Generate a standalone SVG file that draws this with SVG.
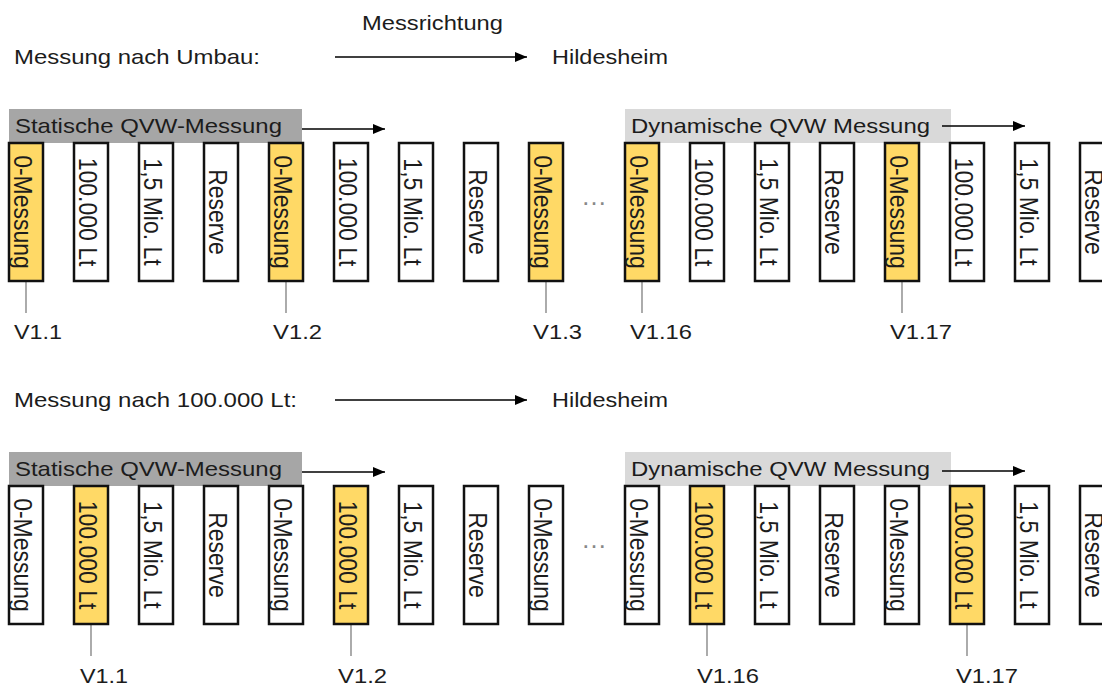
<svg xmlns="http://www.w3.org/2000/svg" width="1102" height="686" viewBox="0 0 1102 686">
<defs>
<style>
text{font-family:"Liberation Sans",Arial,sans-serif;fill:#1c1c1c}
.h{font-size:21px}
.v{font-size:23px;text-anchor:middle}
.box{fill:#fff;stroke:#111;stroke-width:2.5}
.box.y{fill:#ffd966}
.bar1{fill:#a6a6a6}
.bar2{fill:#d9d9d9}
.lead{stroke:#7f7f7f;stroke-width:1.3;fill:none}
.arr{stroke:#000;stroke-width:1.5;fill:none;marker-end:url(#ah)}
.dots{font-size:26px;fill:#888;text-anchor:middle}
</style>
<marker id="ah" viewBox="0 0 12 10" refX="12" refY="5" markerWidth="12" markerHeight="10" markerUnits="userSpaceOnUse" orient="auto">
<path d="M0,0 L12,5 L0,10 z" fill="#000"/>
</marker>
</defs>
<rect width="1102" height="686" fill="#fff"/>

<g id="titles">
<text class="h" x="362" y="30" textLength="141" lengthAdjust="spacingAndGlyphs">Messrichtung</text>
<text class="h" x="14" y="64" textLength="246" lengthAdjust="spacingAndGlyphs">Messung nach Umbau:</text>
<text class="h" x="552" y="64" textLength="116" lengthAdjust="spacingAndGlyphs">Hildesheim</text>
<text class="h" x="14" y="407" textLength="283" lengthAdjust="spacingAndGlyphs">Messung nach 100.000 Lt:</text>
<text class="h" x="552" y="407" textLength="116" lengthAdjust="spacingAndGlyphs">Hildesheim</text>
</g>

<g id="headers">
<rect class="bar1" x="9" y="109" width="293" height="34"/>
<text class="h" x="15" y="133" textLength="267" lengthAdjust="spacingAndGlyphs">Statische QVW-Messung</text>
<rect class="bar2" x="625" y="109" width="326" height="34"/>
<text class="h" x="631" y="133" textLength="299" lengthAdjust="spacingAndGlyphs">Dynamische QVW Messung</text>
<rect class="bar1" x="9" y="452" width="293" height="34"/>
<text class="h" x="15" y="476" textLength="267" lengthAdjust="spacingAndGlyphs">Statische QVW-Messung</text>
<rect class="bar2" x="625" y="452" width="326" height="34"/>
<text class="h" x="631" y="476" textLength="299" lengthAdjust="spacingAndGlyphs">Dynamische QVW Messung</text>
</g>

<g id="connectors">
<line class="arr" x1="335" y1="57" x2="527" y2="57"/>
<line class="arr" x1="335" y1="400" x2="527" y2="400"/>
<line class="arr" x1="302" y1="129" x2="385" y2="129"/>
<line class="arr" x1="942" y1="126" x2="1025" y2="126"/>
<line class="arr" x1="302" y1="472" x2="385" y2="472"/>
<line class="arr" x1="942" y1="471" x2="1025" y2="471"/>
<line class="lead" x1="26" y1="282" x2="26" y2="313"/>
<line class="lead" x1="286" y1="282" x2="286" y2="313"/>
<line class="lead" x1="546" y1="282" x2="546" y2="313"/>
<line class="lead" x1="642" y1="282" x2="642" y2="313"/>
<line class="lead" x1="902" y1="282" x2="902" y2="313"/>
<line class="lead" x1="91" y1="625" x2="91" y2="656"/>
<line class="lead" x1="351" y1="625" x2="351" y2="656"/>
<line class="lead" x1="707" y1="625" x2="707" y2="656"/>
<line class="lead" x1="967" y1="625" x2="967" y2="656"/>
</g>

<!-- top row -->
<g id="t1"><rect class="box y" x="9" y="143" width="34" height="138"/><text class="v" transform="translate(13.5,212) scale(1.15,1) rotate(90)">0-Messung</text></g>
<g id="t2"><rect class="box" x="74" y="143" width="34" height="138"/><text class="v" transform="translate(78.5,212) scale(1.15,1) rotate(90)">100.000 Lt</text></g>
<g id="t3"><rect class="box" x="139" y="143" width="34" height="138"/><text class="v" transform="translate(143.5,212) scale(1.15,1) rotate(90)">1,5 Mio. Lt</text></g>
<g id="t4"><rect class="box" x="204" y="143" width="34" height="138"/><text class="v" transform="translate(208.5,212) scale(1.15,1) rotate(90)">Reserve</text></g>
<g id="t5"><rect class="box y" x="269" y="143" width="34" height="138"/><text class="v" transform="translate(273.5,212) scale(1.15,1) rotate(90)">0-Messung</text></g>
<g id="t6"><rect class="box" x="334" y="143" width="34" height="138"/><text class="v" transform="translate(338.5,212) scale(1.15,1) rotate(90)">100.000 Lt</text></g>
<g id="t7"><rect class="box" x="399" y="143" width="34" height="138"/><text class="v" transform="translate(403.5,212) scale(1.15,1) rotate(90)">1,5 Mio. Lt</text></g>
<g id="t8"><rect class="box" x="464" y="143" width="34" height="138"/><text class="v" transform="translate(468.5,212) scale(1.15,1) rotate(90)">Reserve</text></g>
<g id="t9"><rect class="box y" x="529" y="143" width="34" height="138"/><text class="v" transform="translate(533.5,212) scale(1.15,1) rotate(90)">0-Messung</text></g>
<g id="tdots"><text class="dots" x="594" y="205">…</text></g>
<g id="t16"><rect class="box y" x="625" y="143" width="34" height="138"/><text class="v" transform="translate(629.5,212) scale(1.15,1) rotate(90)">0-Messung</text></g>
<g id="t17"><rect class="box" x="690" y="143" width="34" height="138"/><text class="v" transform="translate(694.5,212) scale(1.15,1) rotate(90)">100.000 Lt</text></g>
<g id="t18"><rect class="box" x="755" y="143" width="34" height="138"/><text class="v" transform="translate(759.5,212) scale(1.15,1) rotate(90)">1,5 Mio. Lt</text></g>
<g id="t19"><rect class="box" x="820" y="143" width="34" height="138"/><text class="v" transform="translate(824.5,212) scale(1.15,1) rotate(90)">Reserve</text></g>
<g id="t20"><rect class="box y" x="885" y="143" width="34" height="138"/><text class="v" transform="translate(889.5,212) scale(1.15,1) rotate(90)">0-Messung</text></g>
<g id="t21"><rect class="box" x="950" y="143" width="34" height="138"/><text class="v" transform="translate(954.5,212) scale(1.15,1) rotate(90)">100.000 Lt</text></g>
<g id="t22"><rect class="box" x="1015" y="143" width="34" height="138"/><text class="v" transform="translate(1019.5,212) scale(1.15,1) rotate(90)">1,5 Mio. Lt</text></g>
<g id="t23"><rect class="box" x="1080" y="143" width="34" height="138"/><text class="v" transform="translate(1084.5,212) scale(1.15,1) rotate(90)">Reserve</text></g>

<g id="toplabels">
<text class="h" x="14" y="339" textLength="48" lengthAdjust="spacingAndGlyphs">V1.1</text>
<text class="h" x="273" y="339" textLength="49" lengthAdjust="spacingAndGlyphs">V1.2</text>
<text class="h" x="533" y="339" textLength="49" lengthAdjust="spacingAndGlyphs">V1.3</text>
<text class="h" x="630" y="339" textLength="62" lengthAdjust="spacingAndGlyphs">V1.16</text>
<text class="h" x="890" y="339" textLength="62" lengthAdjust="spacingAndGlyphs">V1.17</text>
</g>

<!-- bottom row -->
<g id="b1"><rect class="box" x="9" y="486" width="34" height="138"/><text class="v" transform="translate(13.5,555) scale(1.15,1) rotate(90)">0-Messung</text></g>
<g id="b2"><rect class="box y" x="74" y="486" width="34" height="138"/><text class="v" transform="translate(78.5,555) scale(1.15,1) rotate(90)">100.000 Lt</text></g>
<g id="b3"><rect class="box" x="139" y="486" width="34" height="138"/><text class="v" transform="translate(143.5,555) scale(1.15,1) rotate(90)">1,5 Mio. Lt</text></g>
<g id="b4"><rect class="box" x="204" y="486" width="34" height="138"/><text class="v" transform="translate(208.5,555) scale(1.15,1) rotate(90)">Reserve</text></g>
<g id="b5"><rect class="box" x="269" y="486" width="34" height="138"/><text class="v" transform="translate(273.5,555) scale(1.15,1) rotate(90)">0-Messung</text></g>
<g id="b6"><rect class="box y" x="334" y="486" width="34" height="138"/><text class="v" transform="translate(338.5,555) scale(1.15,1) rotate(90)">100.000 Lt</text></g>
<g id="b7"><rect class="box" x="399" y="486" width="34" height="138"/><text class="v" transform="translate(403.5,555) scale(1.15,1) rotate(90)">1,5 Mio. Lt</text></g>
<g id="b8"><rect class="box" x="464" y="486" width="34" height="138"/><text class="v" transform="translate(468.5,555) scale(1.15,1) rotate(90)">Reserve</text></g>
<g id="b9"><rect class="box" x="529" y="486" width="34" height="138"/><text class="v" transform="translate(533.5,555) scale(1.15,1) rotate(90)">0-Messung</text></g>
<g id="bdots"><text class="dots" x="594" y="548">…</text></g>
<g id="b16"><rect class="box" x="625" y="486" width="34" height="138"/><text class="v" transform="translate(629.5,555) scale(1.15,1) rotate(90)">0-Messung</text></g>
<g id="b17"><rect class="box y" x="690" y="486" width="34" height="138"/><text class="v" transform="translate(694.5,555) scale(1.15,1) rotate(90)">100.000 Lt</text></g>
<g id="b18"><rect class="box" x="755" y="486" width="34" height="138"/><text class="v" transform="translate(759.5,555) scale(1.15,1) rotate(90)">1,5 Mio. Lt</text></g>
<g id="b19"><rect class="box" x="820" y="486" width="34" height="138"/><text class="v" transform="translate(824.5,555) scale(1.15,1) rotate(90)">Reserve</text></g>
<g id="b20"><rect class="box" x="885" y="486" width="34" height="138"/><text class="v" transform="translate(889.5,555) scale(1.15,1) rotate(90)">0-Messung</text></g>
<g id="b21"><rect class="box y" x="950" y="486" width="34" height="138"/><text class="v" transform="translate(954.5,555) scale(1.15,1) rotate(90)">100.000 Lt</text></g>
<g id="b22"><rect class="box" x="1015" y="486" width="34" height="138"/><text class="v" transform="translate(1019.5,555) scale(1.15,1) rotate(90)">1,5 Mio. Lt</text></g>
<g id="b23"><rect class="box" x="1080" y="486" width="34" height="138"/><text class="v" transform="translate(1084.5,555) scale(1.15,1) rotate(90)">Reserve</text></g>

<g id="bottomlabels">
<text class="h" x="80" y="683" textLength="48" lengthAdjust="spacingAndGlyphs">V1.1</text>
<text class="h" x="338" y="683" textLength="49" lengthAdjust="spacingAndGlyphs">V1.2</text>
<text class="h" x="697" y="683" textLength="62" lengthAdjust="spacingAndGlyphs">V1.16</text>
<text class="h" x="956" y="683" textLength="62" lengthAdjust="spacingAndGlyphs">V1.17</text>
</g>
</svg>
